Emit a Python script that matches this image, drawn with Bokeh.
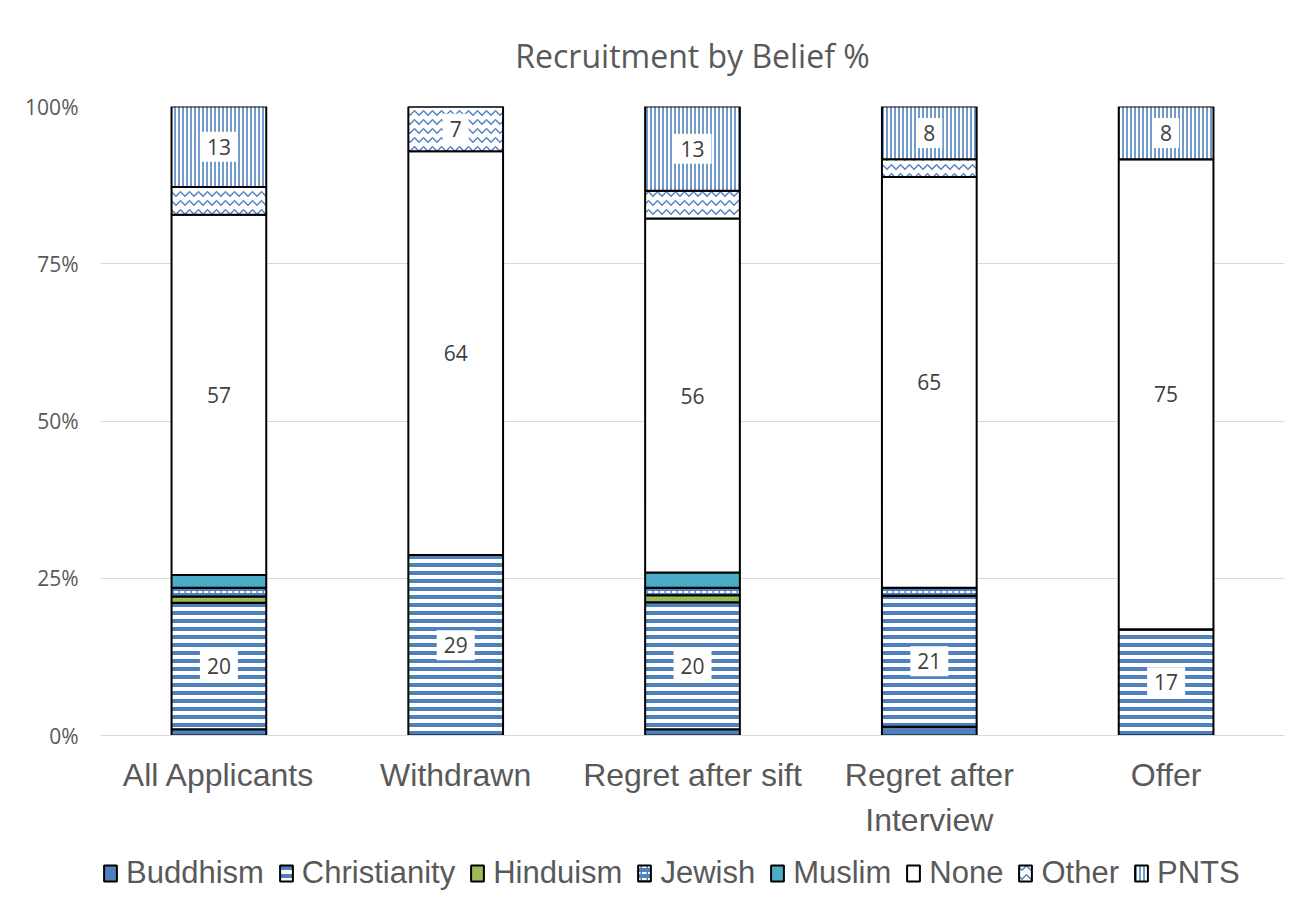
from bokeh.plotting import figure
from bokeh.models import Legend, LegendItem, ColumnDataSource, FixedTicker, CategoricalAxis, FactorRange, Range1d
from bokeh.layouts import column
from bokeh.core.properties import value
from bokeh.embed import file_html
from bokeh.resources import INLINE

categories = ["All Applicants", "Withdrawn", "Regret after sift", "Regret after Interview", "Offer"]
label_line1 = ["All Applicants", "Withdrawn", "Regret after sift", "Regret after", "Offer"]
label_line2 = ["", "", "", "Interview", ""]
series_names = ["Buddhism", "Christianity", "Hinduism", "Jewish", "Muslim", "None", "Other", "PNTS"]

buddhism = [1.0, 0.0, 1.0, 1.4, 0.0]
christianity = [20.1, 28.7, 20.2, 20.8, 16.9]
hinduism = [1.0, 0.0, 1.1, 0.0, 0.0]
jewish = [1.4, 0.0, 1.2, 1.3, 0.0]
muslim = [2.0, 0.0, 2.4, 0.0, 0.0]
none = [57.3, 64.2, 56.3, 65.3, 74.7]
other = [4.4, 7.1, 4.4, 2.8, 0.0]
pnts = [12.8, 0.0, 13.4, 8.4, 8.4]

y_ticks = [0, 25, 50, 75, 100]
y_tick_labels = ["0%", "25%", "50%", "75%", "100%"]

series_values = [buddhism, christianity, hinduism, jewish, muslim, none, other, pnts]
keys = ["s%d" % i for i in range(len(series_names))]

# factors shown on the axis (first line), second line on an auxiliary axis
factors1 = label_line1
factors2 = [t if t else " " * (i + 1) for i, t in enumerate(label_line2)]

data = {"cat": factors1}
for k, v in zip(keys, series_values):
    data[k] = v
source = ColumnDataSource(data)

BLUE = "#4f81bd"
GREY = "#595959"
fills = [BLUE, "white", "#9bbb59", BLUE, "#4bacc6", "white", "white", "white"]
hatches = [None, "horizontal_line", None, "horizontal_dash", None, None, "horizontal_wave", "vertical_line"]
hcolors = [BLUE, BLUE, BLUE, "white", BLUE, BLUE, BLUE, BLUE]
hscales = [8, 8, 8, 6, 8, 8, 9, 4]
hweights = [1, 4, 1, 2, 1, 1, 1.5, 1.6]

p = figure(x_range=FactorRange(factors=factors1), y_range=(0, 100), width=1300, height=840,
           output_backend="svg", toolbar_location=None,
           min_border_left=100, min_border_right=16, min_border_top=106, min_border_bottom=100)
p.extra_x_ranges = {"line2": FactorRange(factors=factors2)}

renderers = p.vbar_stack(keys, x="cat", width=0.4, source=source,
                         fill_color=fills, hatch_pattern=hatches, hatch_color=hcolors,
                         hatch_scale=hscales, hatch_weight=hweights,
                         line_color="black", line_width=2)

# data labels (values >= 5)
lx, ly, lt = [], [], []
for ci, c in enumerate(factors1):
    base = 0.0
    for si, vals in enumerate(series_values):
        v = vals[ci]
        if v >= 5:
            lx.append(c)
            ly.append(base + v / 2)
            lt.append(str(int(round(v))))
        base += v
p.text(x=lx, y=ly, text=lt, text_align="center", text_baseline="middle",
       text_font=value("Open Sans"), text_font_size="21px", text_color="#404040",
       background_fill_color="white", padding=7)

# title
p.title.text = "Recruitment by Belief %"
p.title.align = "center"
p.title.text_font = "Open Sans"
p.title.text_font_size = "32px"
p.title.text_font_style = "normal"
p.title.text_color = GREY
p.title.standoff = 60

# axes
def style_x(ax, standoff):
    ax.axis_line_color = "#d9d9d9"
    ax.major_tick_line_color = None
    ax.minor_tick_line_color = None
    ax.major_label_text_font = "Liberation Sans"
    ax.major_label_text_font_size = "32px"
    ax.major_label_text_color = GREY
    ax.major_label_standoff = standoff

style_x(p.xaxis[0], 15)

ax2 = CategoricalAxis(x_range_name="line2")
style_x(ax2, 0)
ax2.axis_line_color = None
p.add_layout(ax2, "below")

p.yaxis.axis_line_color = None
p.yaxis.major_tick_line_color = None
p.yaxis.minor_tick_line_color = None
p.yaxis.ticker = FixedTicker(ticks=y_ticks)
p.yaxis.major_label_overrides = dict(zip(y_ticks, y_tick_labels))
p.yaxis.major_label_text_font = "Open Sans"
p.yaxis.major_label_text_font_size = "21px"
p.yaxis.major_label_text_color = GREY
p.yaxis.major_label_standoff = 16

p.xgrid.grid_line_color = None
p.ygrid.grid_line_color = "#d9d9d9"
p.ygrid.grid_line_width = 1
p.outline_line_color = None

# legend strip (separate figure below, same styles as the bars; tiny proxy bars hidden under the legend box)
pl = figure(width=1300, height=58, output_backend="svg", toolbar_location=None,
            x_range=Range1d(0, 1), y_range=Range1d(0, 1),
            x_axis_location=None, y_axis_location=None,
            min_border_left=0, min_border_right=0, min_border_top=0, min_border_bottom=0)
pl.xgrid.grid_line_color = None
pl.ygrid.grid_line_color = None
pl.outline_line_color = None
items = []
for i, n in enumerate(series_names):
    r = pl.vbar(x=[0.5], bottom=[0.45], top=[0.5], width=0.002, fill_color=fills[i], hatch_pattern=hatches[i],
                hatch_color=hcolors[i], hatch_scale=hscales[i], hatch_weight=hweights[i],
                line_color="black", line_width=2)
    items.append(LegendItem(label=n, renderers=[r]))

legend = Legend(items=items, orientation="horizontal", location=(2, 7), margin=0, padding=0,
                spacing=14, label_standoff=8, glyph_width=16, glyph_height=20,
                label_text_font="Liberation Sans", label_text_font_size="31px",
                label_text_color=GREY, border_line_color=None,
                background_fill_color="white", background_fill_alpha=1)
pl.add_layout(legend)

layout = column(p, pl, spacing=0)
open("out.html", "w").write(file_html(layout, INLINE))
